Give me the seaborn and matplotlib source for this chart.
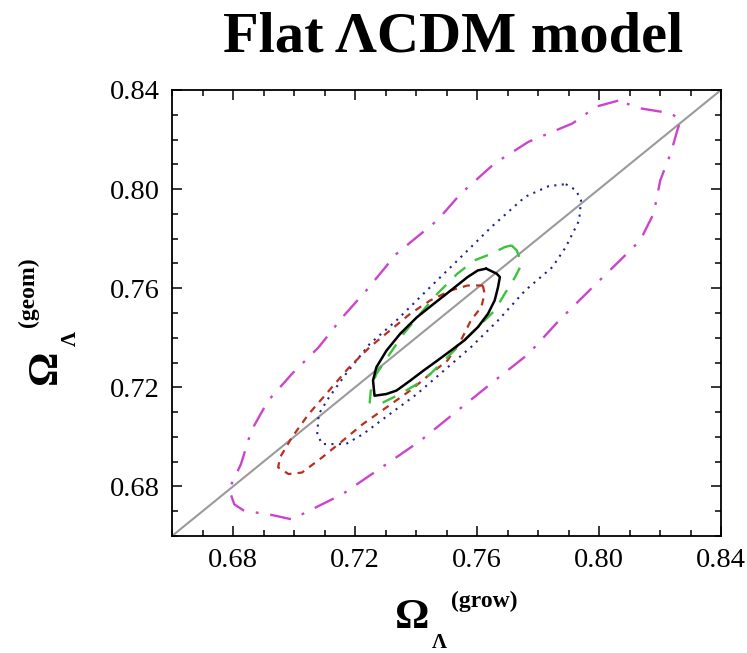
import numpy as np
import pandas as pd
import matplotlib
matplotlib.use("Agg")
import matplotlib.pyplot as plt
from matplotlib.ticker import MultipleLocator, FixedLocator
import seaborn as sns

# Confidence contours in the (Omega_L grow, Omega_L geom) plane
magenta_x = [0.8063, 0.7991, 0.7913, 0.7769, 0.7658, 0.7547, 0.7470, 0.7336, 0.7237, 0.7159,
             0.7081, 0.6993, 0.6915, 0.6860, 0.6826, 0.6787, 0.6804, 0.6837, 0.6915, 0.6993,
             0.7048, 0.7159, 0.7303, 0.7414, 0.7536, 0.7658, 0.7769, 0.7869, 0.7980, 0.8091,
             0.8135, 0.8179, 0.8201, 0.8235, 0.8257, 0.8268, 0.8235, 0.8135]
magenta_y = [0.8357, 0.8333, 0.8265, 0.8191, 0.8104, 0.7982, 0.7874, 0.7739, 0.7591, 0.7483,
             0.7362, 0.7254, 0.7146, 0.7025, 0.6890, 0.6789, 0.6728, 0.6701, 0.6688, 0.6667,
             0.6701, 0.6769, 0.6890, 0.6984, 0.7106, 0.7227, 0.7335, 0.7470, 0.7605, 0.7739,
             0.7793, 0.7901, 0.8036, 0.8144, 0.8238, 0.8279, 0.8306, 0.8326]

blue_x = [0.7891, 0.7924, 0.7941, 0.7935, 0.7913, 0.7891, 0.7847, 0.7758, 0.7669, 0.7580,
          0.7492, 0.7403, 0.7314, 0.7226, 0.7170, 0.7092, 0.7076, 0.7081, 0.7115, 0.7170,
          0.7248, 0.7336, 0.7447, 0.7536, 0.7647, 0.7758, 0.7835]
blue_y = [0.8020, 0.7996, 0.7955, 0.7874, 0.7820, 0.7766, 0.7685, 0.7591, 0.7470, 0.7362,
          0.7268, 0.7173, 0.7092, 0.7011, 0.6971, 0.6971, 0.7011, 0.7092, 0.7160, 0.7254,
          0.7375, 0.7470, 0.7605, 0.7712, 0.7847, 0.7969, 0.8012]

red_x = [0.7619, 0.7625, 0.7614, 0.7580, 0.7547, 0.7503, 0.7447, 0.7381, 0.7303, 0.7226,
         0.7159, 0.7092, 0.7026, 0.6982, 0.6948, 0.6954, 0.6993, 0.7048, 0.7115, 0.7181,
         0.7248, 0.7314, 0.7381, 0.7447, 0.7514, 0.7569]
red_y = [0.7611, 0.7578, 0.7524, 0.7470, 0.7389, 0.7308, 0.7254, 0.7187, 0.7119, 0.7052,
         0.6984, 0.6917, 0.6856, 0.6850, 0.6877, 0.6917, 0.6998, 0.7092, 0.7187, 0.7281,
         0.7362, 0.7429, 0.7497, 0.7551, 0.7591, 0.7611]

green_x = [0.7713, 0.7730, 0.7747, 0.7725, 0.7691, 0.7658, 0.7625, 0.7580, 0.7536, 0.7492,
           0.7447, 0.7403, 0.7348, 0.7292, 0.7248, 0.7253, 0.7270, 0.7314, 0.7359, 0.7414,
           0.7470, 0.7536, 0.7591, 0.7647, 0.7691]
green_y = [0.7773, 0.7753, 0.7699, 0.7645, 0.7578, 0.7510, 0.7470, 0.7416, 0.7362, 0.7308,
           0.7254, 0.7213, 0.7173, 0.7139, 0.7139, 0.7200, 0.7254, 0.7335, 0.7416, 0.7497,
           0.7578, 0.7659, 0.7712, 0.7739, 0.7766]

black_x = [0.7630, 0.7664, 0.7675, 0.7669, 0.7658, 0.7636, 0.7603, 0.7558, 0.7514, 0.7470,
           0.7425, 0.7381, 0.7336, 0.7303, 0.7264, 0.7259, 0.7270, 0.7303, 0.7348, 0.7403,
           0.7458, 0.7514, 0.7569, 0.7603]
black_y = [0.7679, 0.7659, 0.7645, 0.7605, 0.7551, 0.7497, 0.7443, 0.7389, 0.7348, 0.7308,
           0.7268, 0.7227, 0.7187, 0.7173, 0.7166, 0.7227, 0.7281, 0.7348, 0.7416, 0.7483,
           0.7537, 0.7591, 0.7645, 0.7672]

diag = [0.66, 0.84]
tick_values = [0.68, 0.72, 0.76, 0.80, 0.84]
tick_labels = ["0.68", "0.72", "0.76", "0.80", "0.84"]

sns.set_style("ticks")
plt.rcParams["font.family"] = ["Liberation Serif", "DejaVu Serif"]
plt.rcParams["text.color"] = "black"
plt.rcParams["xtick.color"] = "black"
plt.rcParams["ytick.color"] = "black"

fig = plt.figure(figsize=(7.47, 6.53), dpi=100)
ax = fig.add_axes([0.2303, 0.1792, 0.7349, 0.6830])


def closed(xs, ys):
    return pd.DataFrame({"x": list(xs) + [xs[0]], "y": list(ys) + [ys[0]]})


# y = x reference line
sns.lineplot(x=diag, y=diag, ax=ax, color="#9a9a9a", lw=1.5, sort=False, estimator=None)

styles = [
    (magenta_x, magenta_y, "#cc44cc", (0, (9, 5, 1.2, 5)), 1.7),
    (blue_x, blue_y, "#22228f", (0, (1, 2.6)), 1.5),
    (red_x, red_y, "#b83020", (0, (3.2, 2.8)), 1.6),
    (green_x, green_y, "#3cc23c", (0, (6, 5)), 1.7),
    (black_x, black_y, "black", "-", 1.8),
]
for xs, ys, col, ls, lw in styles:
    d = closed(xs, ys)
    sns.lineplot(data=d, x="x", y="y", ax=ax, color=col, linestyle=ls, lw=lw,
                 sort=False, estimator=None)

ax.set_xlim(0.66, 0.84)
ax.set_ylim(0.66, 0.84)
ax.xaxis.set_major_locator(FixedLocator(tick_values))
ax.yaxis.set_major_locator(FixedLocator(tick_values))
ax.set_xticklabels(tick_labels)
ax.set_yticklabels(tick_labels)
ax.xaxis.set_minor_locator(MultipleLocator(0.01))
ax.yaxis.set_minor_locator(MultipleLocator(0.01))
ax.tick_params(which="both", direction="in", top=True, right=True,
               width=1.1, color="black")
ax.tick_params(which="major", length=7, labelsize=20.5, pad=9, labelcolor="black")
ax.tick_params(which="minor", length=4.5)
for s in ax.spines.values():
    s.set_linewidth(1.3)
    s.set_color("black")
ax.set_xlabel("")
ax.set_ylabel("")

# Title
fig.text(453 / 747, 1 - 51 / 653, "Flat \u039bCDM model", ha="center", va="baseline",
         fontsize=42, fontweight="bold", color="black",
         family=["Liberation Serif", "DejaVu Serif"])

# Axis labels built from pieces: big Omega, Lambda subscript, small superscript
fig.text(412 / 747, 1 - 618 / 653, "\u03a9", ha="center", va="center", fontsize=31,
         fontweight="bold", family=["Liberation Serif"])
fig.text(439 / 747, 1 - 643 / 653, "\u039b", ha="center", va="center", fontsize=15,
         fontweight="bold", family=["Liberation Serif"])
fig.text(484 / 747, 1 - 601 / 653, "(grow)", ha="center", va="center", fontsize=17,
         fontweight="bold", family=["Liberation Serif"])

fig.text(46 / 747, 1 - 367 / 653, "\u03a9", ha="center", va="center", fontsize=31,
         fontweight="bold", rotation=90, family=["Liberation Serif"])
fig.text(71 / 747, 1 - 339 / 653, "\u039b", ha="center", va="center", fontsize=15,
         fontweight="bold", rotation=90, family=["Liberation Serif"])
fig.text(28 / 747, 1 - 292 / 653, "(geom)", ha="center", va="center", fontsize=17,
         fontweight="bold", rotation=90, family=["Liberation Serif"])

fig.savefig("out.png", dpi=100)
